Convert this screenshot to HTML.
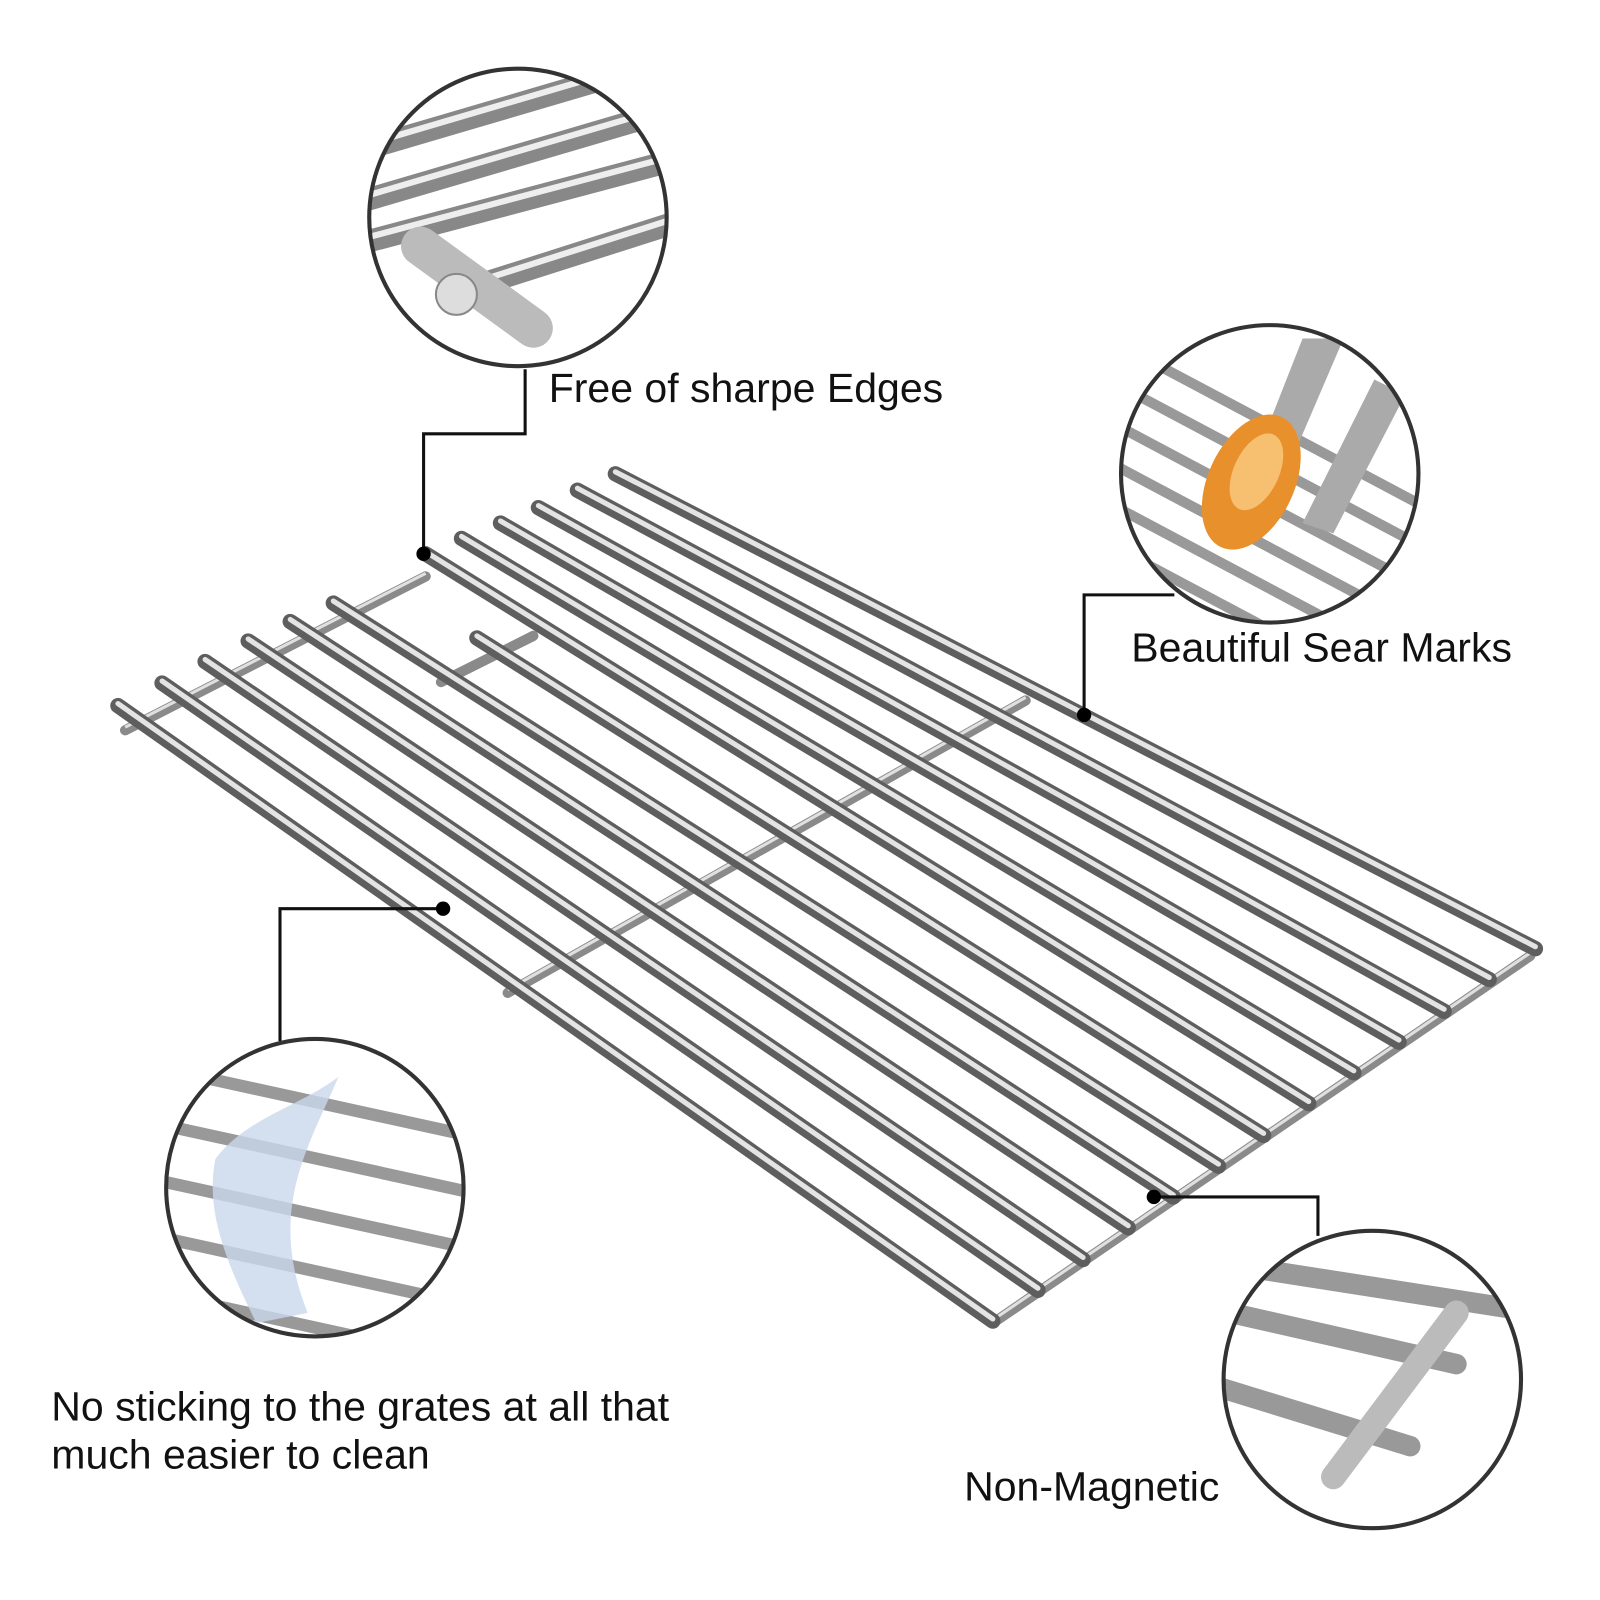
<!DOCTYPE html>
<html><head><meta charset="utf-8"><style>
html,body{margin:0;padding:0;background:#fff;}
svg{display:block}
text{font-family:"Liberation Sans",sans-serif;fill:#111;}
</style></head><body>
<svg width="1600" height="1600" viewBox="0 0 1560 1560" xmlns="http://www.w3.org/2000/svg">
<defs>
<clipPath id="c1"><circle cx="505" cy="212" r="145"/></clipPath>
<clipPath id="c2"><circle cx="1238" cy="462" r="145"/></clipPath>
<clipPath id="c3"><circle cx="307" cy="1158" r="145"/></clipPath>
<clipPath id="c4"><circle cx="1338" cy="1345" r="145"/></clipPath>
</defs>

<!-- cross bars -->
<g stroke="#8a8a8a" stroke-width="10" stroke-linecap="round">
<line x1="122" y1="712" x2="415" y2="562"/>
<line x1="430" y1="665" x2="520" y2="620"/>
<line x1="495" y1="968" x2="1000" y2="683"/>
<line x1="968" y1="1290" x2="1492" y2="932"/>
</g>
<g stroke="#e0e0e0" stroke-width="3">
<line x1="122" y1="709" x2="415" y2="559"/>
<line x1="495" y1="965" x2="1000" y2="680"/>
<line x1="968" y1="1287" x2="1492" y2="929"/>
</g>

<!-- rods -->
<g stroke-linecap="round">
<g stroke="#5e5e5e" stroke-width="15">
<line x1="115" y1="688" x2="968" y2="1288"/>
<line x1="158" y1="666" x2="1012" y2="1258"/>
<line x1="200" y1="645" x2="1056" y2="1228"/>
<line x1="242" y1="625" x2="1100" y2="1197"/>
<line x1="283" y1="606" x2="1144" y2="1167"/>
<line x1="325" y1="588" x2="1188" y2="1137"/>
<line x1="465" y1="622" x2="1232" y2="1107"/>
<line x1="415" y1="540" x2="1276" y2="1076"/>
<line x1="450" y1="525" x2="1320" y2="1046"/>
<line x1="488" y1="510" x2="1364" y2="1016"/>
<line x1="525" y1="495" x2="1408" y2="986"/>
<line x1="563" y1="478" x2="1452" y2="955"/>
<line x1="600" y1="462" x2="1497" y2="925"/>
</g>
<g stroke="#e4e4e4" stroke-width="5" transform="translate(0,-2)">
<line x1="115" y1="688" x2="968" y2="1288"/>
<line x1="158" y1="666" x2="1012" y2="1258"/>
<line x1="200" y1="645" x2="1056" y2="1228"/>
<line x1="242" y1="625" x2="1100" y2="1197"/>
<line x1="283" y1="606" x2="1144" y2="1167"/>
<line x1="325" y1="588" x2="1188" y2="1137"/>
<line x1="465" y1="622" x2="1232" y2="1107"/>
<line x1="415" y1="540" x2="1276" y2="1076"/>
<line x1="450" y1="525" x2="1320" y2="1046"/>
<line x1="488" y1="510" x2="1364" y2="1016"/>
<line x1="525" y1="495" x2="1408" y2="986"/>
<line x1="563" y1="478" x2="1452" y2="955"/>
<line x1="600" y1="462" x2="1497" y2="925"/>
</g>
</g>

<!-- callout connectors -->
<g stroke="#111" stroke-width="3" fill="none">
<polyline points="512,360 512,423 413,423 413,540"/>
<polyline points="1057,697 1057,580 1145,580"/>
<polyline points="432,886 273,886 273,1015"/>
<polyline points="1125,1167 1285,1167 1285,1205"/>
</g>
<g fill="#000">
<circle cx="413" cy="540" r="7"/><circle cx="1057" cy="697" r="7"/>
<circle cx="432" cy="886" r="7"/><circle cx="1125" cy="1167" r="7"/>
</g>

<!-- circle 1 -->
<g clip-path="url(#c1)">
<rect x="350" y="60" width="310" height="310" fill="#fff"/>
<g stroke="#888" stroke-width="22" stroke-linecap="round">
<line x1="340" y1="150" x2="680" y2="50"/><line x1="340" y1="200" x2="680" y2="100"/>
<line x1="360" y1="235" x2="680" y2="150"/><line x1="445" y1="285" x2="680" y2="210"/>
</g>
<g stroke="#eee" stroke-width="6"><line x1="340" y1="146" x2="680" y2="46"/><line x1="340" y1="196" x2="680" y2="96"/><line x1="360" y1="231" x2="680" y2="146"/><line x1="445" y1="281" x2="680" y2="206"/></g>
<line x1="410" y1="240" x2="520" y2="320" stroke="#bbb" stroke-width="38" stroke-linecap="round"/>
<circle cx="445" cy="287" r="20" fill="#ddd" stroke="#888" stroke-width="2"/>
</g>
<circle cx="505" cy="212" r="145" fill="none" stroke="#333" stroke-width="4"/>

<!-- circle 2 -->
<g clip-path="url(#c2)">
<g stroke="#999" stroke-width="10">
<line x1="1080" y1="330" x2="1400" y2="500"/><line x1="1080" y1="370" x2="1400" y2="540"/>
<line x1="1080" y1="410" x2="1400" y2="580"/><line x1="1080" y1="450" x2="1400" y2="620"/>
<line x1="1080" y1="490" x2="1400" y2="660"/><line x1="1080" y1="530" x2="1400" y2="700"/>
</g>
<path d="M1270,330 L1310,330 L1250,470 L1215,470 Z" fill="#aaa"/>
<path d="M1340,370 L1370,385 L1300,520 L1270,510 Z" fill="#aaa"/>
<ellipse cx="1220" cy="470" rx="42" ry="70" transform="rotate(25 1220 470)" fill="#e8902c"/>
<ellipse cx="1225" cy="460" rx="22" ry="40" transform="rotate(25 1225 460)" fill="#f7c070"/>
</g>
<circle cx="1238" cy="462" r="145" fill="none" stroke="#333" stroke-width="4"/>

<!-- circle 3 -->
<g clip-path="url(#c3)">
<g stroke="#999" stroke-width="12">
<line x1="150" y1="1040" x2="470" y2="1110"/><line x1="150" y1="1095" x2="470" y2="1165"/>
<line x1="150" y1="1150" x2="470" y2="1220"/><line x1="150" y1="1205" x2="470" y2="1275"/>
<line x1="150" y1="1260" x2="470" y2="1330"/>
</g>
<path d="M210,1130 C240,1090 290,1080 330,1050 C300,1120 260,1180 300,1280 L250,1290 C220,1230 200,1180 210,1130 Z" fill="#c9d7ec" opacity="0.8"/>
</g>
<circle cx="307" cy="1158" r="145" fill="none" stroke="#333" stroke-width="4"/>

<!-- circle 4 -->
<g clip-path="url(#c4)">
<g stroke="#999" stroke-width="20" stroke-linecap="round">
<line x1="1180" y1="1230" x2="1500" y2="1280"/><line x1="1200" y1="1280" x2="1420" y2="1330"/>
<line x1="1180" y1="1350" x2="1375" y2="1410"/>
</g>
<line x1="1420" y1="1280" x2="1300" y2="1440" stroke="#bbb" stroke-width="24" stroke-linecap="round"/>
</g>
<circle cx="1338" cy="1345" r="145" fill="none" stroke="#333" stroke-width="4"/>

<!-- labels -->
<text x="535" y="392" font-size="40">Free of sharpe Edges</text>
<text x="1103" y="645" font-size="40">Beautiful Sear Marks</text>
<text x="50" y="1385" font-size="40">No sticking to the grates at all that</text>
<text x="50" y="1432" font-size="40">much easier to clean</text>
<text x="940" y="1463" font-size="40">Non-Magnetic</text>
</svg>
</body></html>
